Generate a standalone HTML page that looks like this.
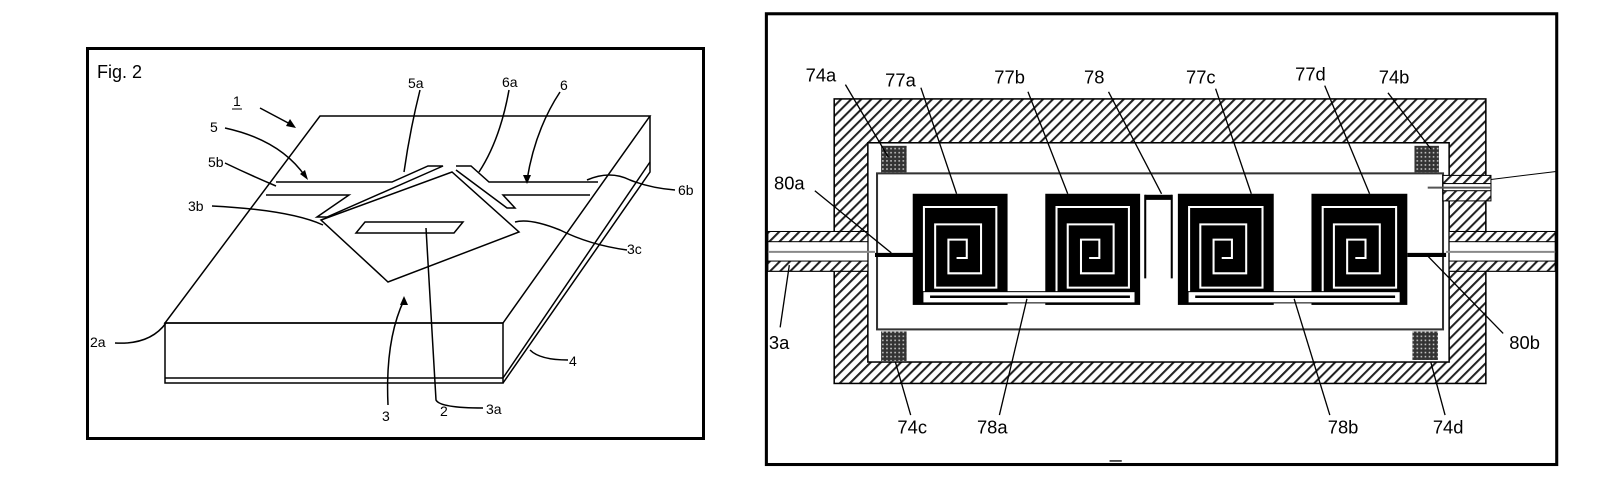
<!DOCTYPE html>
<html><head><meta charset="utf-8"><style>
html,body{margin:0;padding:0;background:#fff;width:1599px;height:501px;overflow:hidden}
svg{display:block}
text{font-family:"Liberation Sans",sans-serif;fill:#000}
.l{font-size:14px}
.r{font-size:18px;font-stretch:condensed}
</style></head><body>
<svg width="1599" height="501" viewBox="0 0 1599 501" xmlns="http://www.w3.org/2000/svg">
<defs>
<pattern id="h" width="7" height="7" patternUnits="userSpaceOnUse" patternTransform="rotate(45)">
<rect width="7" height="7" fill="#fff"/><rect width="2" height="7" fill="#222"/></pattern>
<pattern id="x" width="4" height="4" patternUnits="userSpaceOnUse">
<rect width="4" height="4" fill="#333"/><rect x="1" y="1" width="1.5" height="1.5" fill="#ccc"/></pattern>
</defs>
<!-- LEFT FIGURE -->
<rect x="87.5" y="48.5" width="616" height="390" fill="none" stroke="#000" stroke-width="3"/>
<text x="97" y="78" font-size="18" font-family="Liberation Sans">Fig. 2</text>
<g fill="none" stroke="#000" stroke-width="1.5">
<polygon points="320,116 650,116 503,323 165,323"/>
<rect x="165" y="323" width="338" height="60"/>
<line x1="165" y1="378" x2="503" y2="378"/>
<polyline points="650,116 650,172 503,383"/>
<polyline points="650,162 503,378"/>
<polyline points="276,182 392,182 428,166 443,166 327,217 317,217 349,195 266,195"/>
<polyline points="456,166 471,166 489,182 598,182"/>
<polyline points="590,195 503,195 515,208 507,208 456,170"/>
<polygon points="321,220 452,172 519,232 388,282" fill="#fff"/>
<polygon points="365,222 463,222 454,233 356,233"/>
<path d="M420,90 Q410,130 404,172"/>
<path d="M509,90 Q500,140 479,172"/>
<path d="M560,92 Q535,130 527,180"/>
<path d="M225,128 Q280,140 305,176"/>
<path d="M225,163 Q250,175 276,186"/>
<path d="M212,206 Q290,210 323,225"/>
<path d="M627,250 Q590,245 560,230 Q530,218 515,222"/>
<path d="M587,180 Q610,170 630,180 Q650,188 675,190"/>
<path d="M115,343 Q150,345 166,323"/>
<path d="M568,360 Q540,360 530,350"/>
<path d="M388,405 Q385,340 404,300"/>
<path d="M426,228 L436,400 Q440,408 483,408"/>
<line x1="260" y1="108" x2="292" y2="125"/>
</g>
<polygon points="296,128 286,126 290,119" fill="#000"/>
<polygon points="308,180 300,174 305,170" fill="#000"/>
<polygon points="527,184 523,175 531,175" fill="#000"/>
<polygon points="404,296 400,305 408,305" fill="#000"/>
<g class="l">
<text x="233" y="106">1</text><line x1="232" y1="109" x2="242" y2="109" stroke="#000"/>
<text x="408" y="88">5a</text><text x="502" y="87">6a</text><text x="560" y="90">6</text>
<text x="210" y="132">5</text><text x="208" y="167">5b</text><text x="678" y="195">6b</text>
<text x="188" y="211">3b</text><text x="627" y="254">3c</text><text x="90" y="347">2a</text>
<text x="569" y="366">4</text><text x="382" y="421">3</text><text x="440" y="416">2</text><text x="486" y="414">3a</text>
</g>

<!-- RIGHT FIGURE -->
<g transform="scale(1.0198)">
<rect x="751.5" y="13.5" width="775" height="442" fill="none" stroke="#000" stroke-width="3"/>
<rect x="818" y="97" width="639" height="279" fill="url(#h)" stroke="#000" stroke-width="1.5"/>
<rect x="851" y="140" width="570" height="215" fill="#fff" stroke="#000" stroke-width="1.5"/>
<rect x="860" y="170" width="555" height="153" fill="#fff" stroke="#333" stroke-width="2"/>
<rect x="864" y="143" width="25" height="26" fill="url(#x)"/>
<rect x="1387" y="143" width="24" height="26" fill="url(#x)"/>
<rect x="864" y="325" width="25" height="29" fill="url(#x)"/>
<rect x="1385" y="325" width="25" height="28" fill="url(#x)"/>
<rect x="753" y="227" width="98" height="39" fill="#fff" stroke="#000"/>
<rect x="753" y="227" width="98" height="10" fill="url(#h)" stroke="#000"/>
<rect x="753" y="256" width="98" height="10" fill="url(#h)" stroke="#000"/>
<line x1="753" y1="247" x2="858" y2="247" stroke="#888" stroke-width="2"/>
<line x1="858" y1="250" x2="896" y2="250" stroke="#000" stroke-width="4"/>
<rect x="1421" y="227" width="104" height="39" fill="#fff" stroke="#000"/>
<rect x="1421" y="227" width="104" height="10" fill="url(#h)" stroke="#000"/>
<rect x="1421" y="256" width="104" height="10" fill="url(#h)" stroke="#000"/>
<line x1="1418" y1="247" x2="1525" y2="247" stroke="#888" stroke-width="2"/>
<line x1="1380" y1="250" x2="1418" y2="250" stroke="#000" stroke-width="4"/>
<rect x="1415" y="172" width="47" height="25" fill="url(#h)" stroke="#000"/>
<rect x="1415" y="180" width="47" height="7" fill="#fff" stroke="#000"/>
<line x1="1400" y1="184" x2="1462" y2="184" stroke="#555" stroke-width="2"/>
<line x1="1462" y1="176" x2="1527" y2="168" stroke="#000"/>
<rect x="895" y="190" width="93" height="109" fill="#000"/>
<path d="M906,290 L906,203 L977,203 L977,282 L917,282 L917,220 L962,220 L962,268 L930,268 L930,235 L948,235 L948,253 L938,253" fill="none" stroke="#fff" stroke-width="2"/>
<rect x="1025" y="190" width="93" height="109" fill="#000"/>
<path d="M1036,290 L1036,203 L1107,203 L1107,282 L1047,282 L1047,220 L1092,220 L1092,268 L1060,268 L1060,235 L1078,235 L1078,253 L1068,253" fill="none" stroke="#fff" stroke-width="2"/>
<rect x="1155" y="190" width="94" height="109" fill="#000"/>
<path d="M1166,290 L1166,203 L1238,203 L1238,282 L1177,282 L1177,220 L1222,220 L1222,268 L1190,268 L1190,235 L1208,235 L1208,253 L1198,253" fill="none" stroke="#fff" stroke-width="2"/>
<rect x="1286" y="190" width="94" height="109" fill="#000"/>
<path d="M1297,290 L1297,203 L1369,203 L1369,282 L1308,282 L1308,220 L1353,220 L1353,268 L1321,268 L1321,235 L1339,235 L1339,253 L1329,253" fill="none" stroke="#fff" stroke-width="2"/>
<rect x="905" y="286" width="208" height="11" fill="#fff" stroke="#000"/>
<line x1="912" y1="291" x2="1108" y2="291" stroke="#000" stroke-width="2.5"/>
<rect x="1165" y="286" width="208" height="11" fill="#fff" stroke="#000"/>
<line x1="1172" y1="291" x2="1368" y2="291" stroke="#000" stroke-width="2.5"/>
<rect x="1123" y="191" width="26" height="5" fill="#000"/>
<line x1="1123" y1="191" x2="1123" y2="273" stroke="#000" stroke-width="2"/>
<line x1="1149" y1="191" x2="1149" y2="273" stroke="#000" stroke-width="2"/>
<g stroke="#000" stroke-width="1.3">
<line x1="829" y1="83" x2="871" y2="154"/><line x1="903" y1="86" x2="938" y2="190"/>
<line x1="1008" y1="90" x2="1047" y2="190"/><line x1="1087" y1="90" x2="1139" y2="190"/>
<line x1="1192" y1="87" x2="1227" y2="190"/><line x1="1299" y1="84" x2="1343" y2="190"/>
<line x1="1361" y1="91" x2="1403" y2="146"/><line x1="799" y1="187" x2="874" y2="248"/>
<line x1="765" y1="321" x2="774" y2="260"/><line x1="1474" y1="327" x2="1398" y2="249"/>
<line x1="893" y1="407" x2="878" y2="355"/><line x1="980" y1="407" x2="1007" y2="293"/>
<line x1="1304" y1="407" x2="1269" y2="293"/><line x1="1417" y1="407" x2="1403" y2="355"/>
<line x1="1088" y1="452" x2="1100" y2="452"/>
</g>
<g class="r">
<text x="790" y="80">74a</text><text x="868" y="85">77a</text><text x="975" y="82">77b</text>
<text x="1063" y="82">78</text><text x="1163" y="82">77c</text><text x="1270" y="79">77d</text>
<text x="1352" y="82">74b</text><text x="759" y="186">80a</text><text x="754" y="342">3a</text>
<text x="1480" y="342">80b</text><text x="880" y="425">74c</text><text x="958" y="425">78a</text>
<text x="1302" y="425">78b</text><text x="1405" y="425">74d</text>
</g>
</g>
</svg>
</body></html>
